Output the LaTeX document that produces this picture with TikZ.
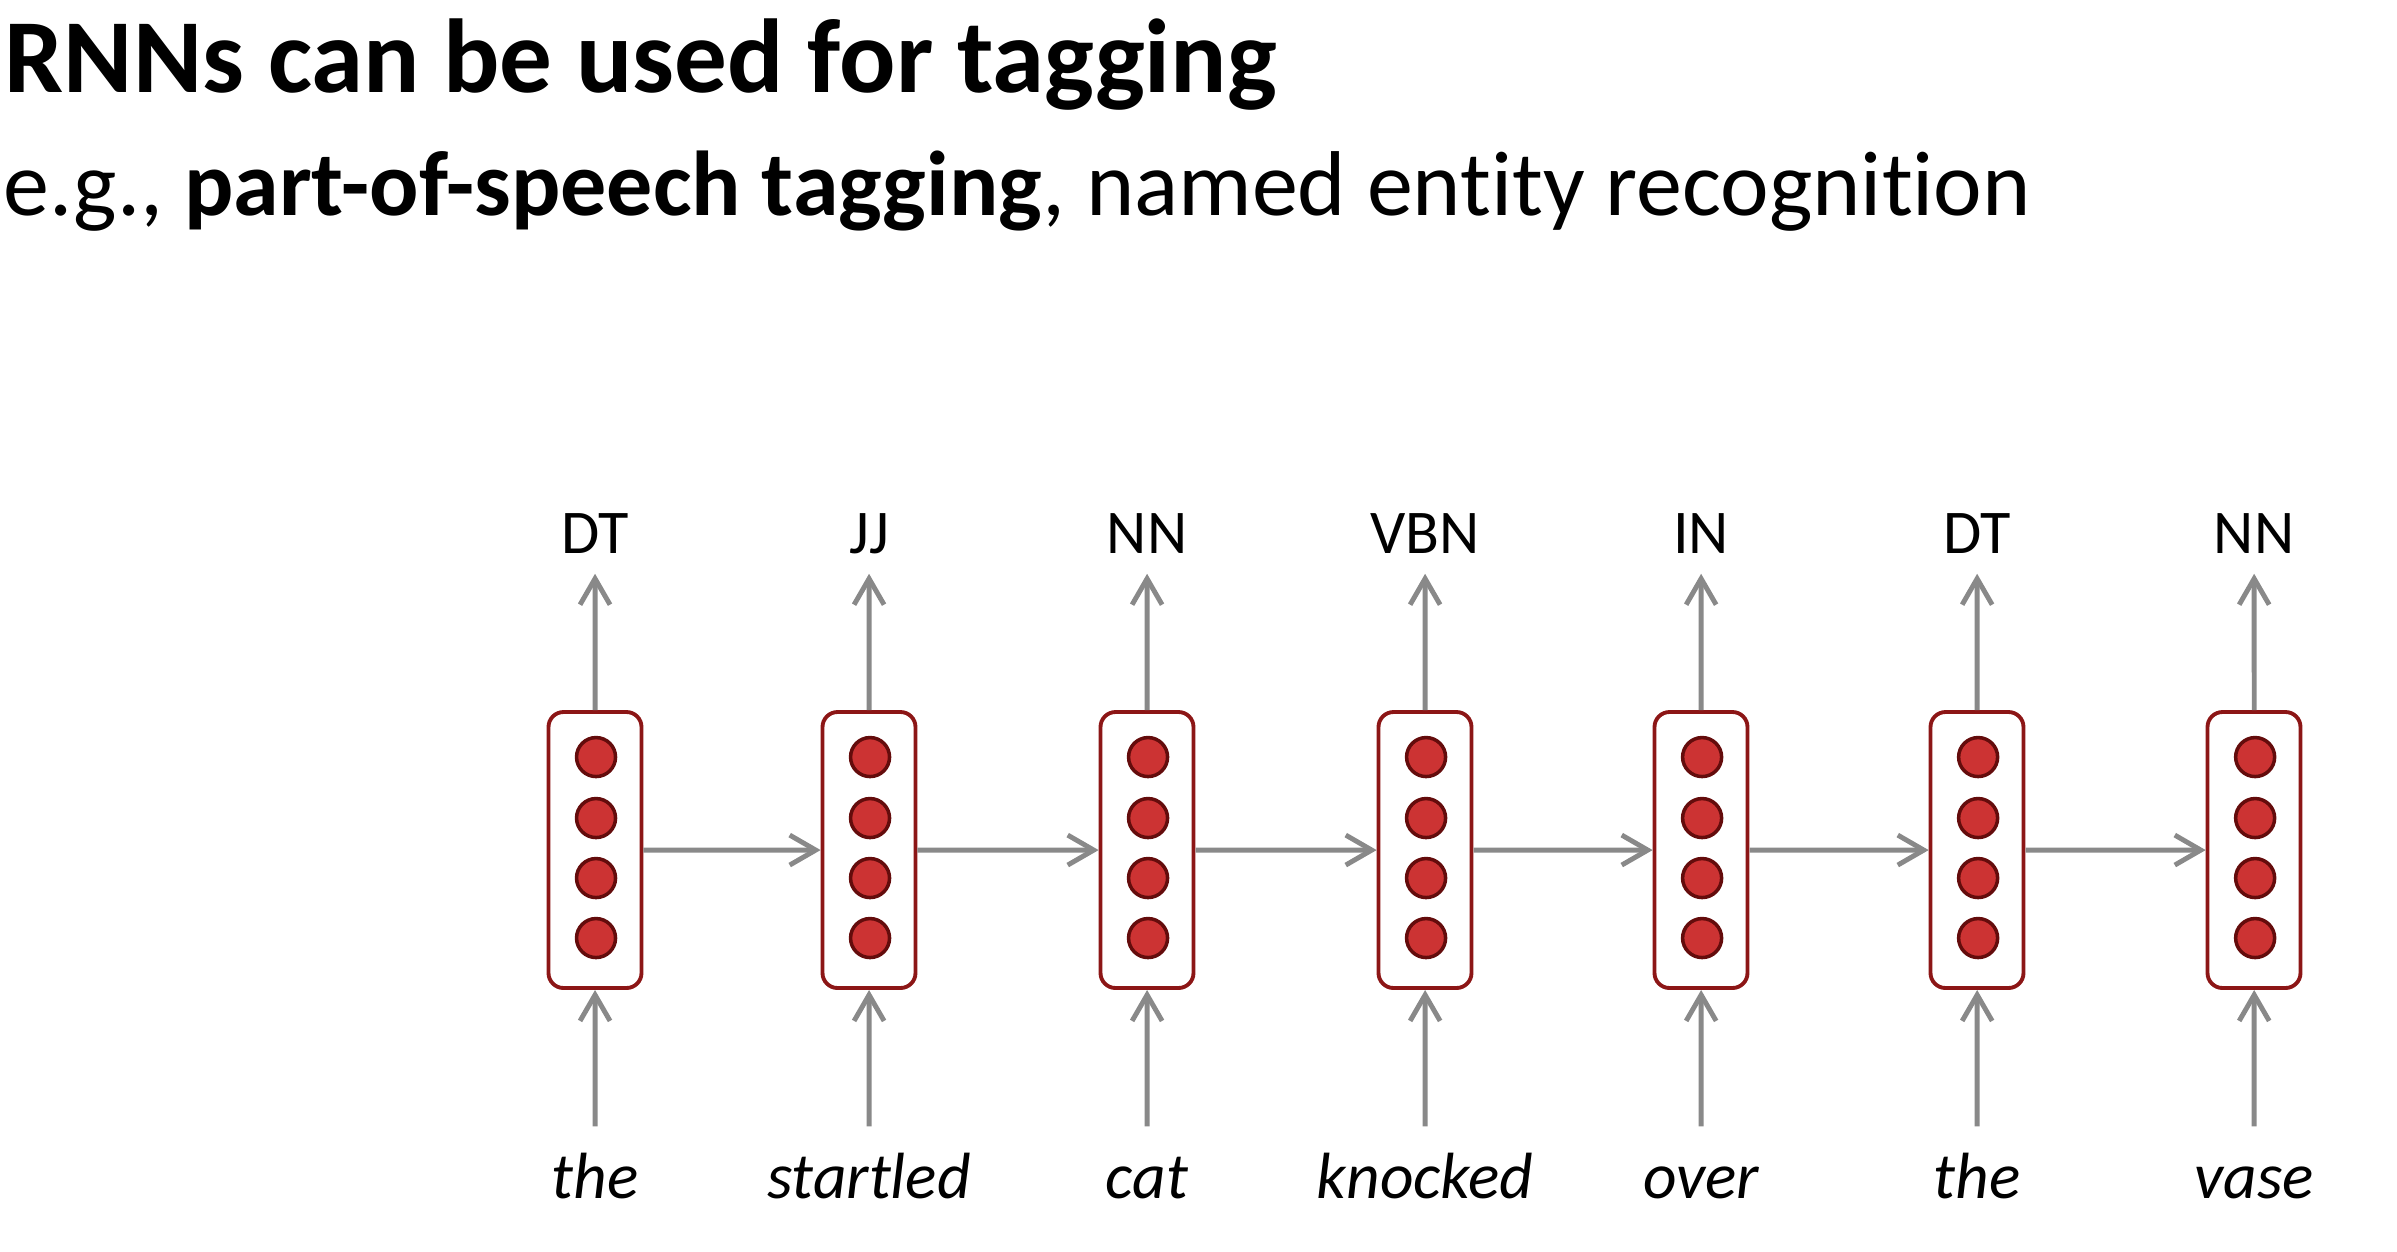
\documentclass[tikz,border=0pt]{standalone}
\usepackage{fontspec}
\setmainfont{Carlito}[Ligatures=NoCommon]
\usetikzlibrary{arrows.meta}
\definecolor{boxred}{RGB}{140,22,22}
\definecolor{unitred}{RGB}{204,51,51}
\definecolor{unitedge}{RGB}{100,12,12}
\definecolor{linkgray}{RGB}{137,137,137}
\tikzset{
  cell/.style={draw=boxred, line width=1.1pt, fill=white, rounded corners=0.15cm,
    minimum width=0.93cm, minimum height=2.76cm, inner sep=0pt},
  unit/.style={circle, draw=unitedge, fill=unitred, line width=1pt,
    minimum size=0.39cm, inner sep=0pt},
  tag/.style={anchor=base, inner sep=0pt, text depth=0.2cm, font=\fontsize{17.7}{20}\selectfont},
  word/.style={anchor=base, inner sep=0pt, text height=0.71cm, font=\fontsize{18.6}{21}\selectfont\itshape},
  link/.style={draw=linkgray, line width=1.4pt, -{Straight Barb[length=0.26cm,width=0.3cm]}}
}
\begin{document}
\begin{tikzpicture}[scale=0.1]
\useasboundingbox (0,0) rectangle (239.7,-125.1);
% heading
\node [anchor=base west, inner sep=0pt, font=\fontsize{29.9}{36}\selectfont\bfseries] (title) at (0.4,-9.2) {RNNs can be used for tagging};
\node [anchor=base west, inner sep=0pt, font=\fontsize{26.2}{32}\selectfont] (subtitle) at (0.3,-21.5) {e.g., \textbf{part-of-speech tagging}, named entity recognition};
% cells
\node [cell] (c1) at (59.5,-85) {};
\path (c1) +(0.1,9.3) node [unit] (c1a) {} +(0.1,3.2) node [unit] (c1b) {} +(0.1,-2.8) node [unit] (c1c) {} +(0.1,-8.8) node [unit] (c1d) {};
\node [cell] (c2) at (86.9,-85) {};
\path (c2) +(0.1,9.3) node [unit] (c2a) {} +(0.1,3.2) node [unit] (c2b) {} +(0.1,-2.8) node [unit] (c2c) {} +(0.1,-8.8) node [unit] (c2d) {};
\node [cell] (c3) at (114.7,-85) {};
\path (c3) +(0.1,9.3) node [unit] (c3a) {} +(0.1,3.2) node [unit] (c3b) {} +(0.1,-2.8) node [unit] (c3c) {} +(0.1,-8.8) node [unit] (c3d) {};
\node [cell] (c4) at (142.5,-85) {};
\path (c4) +(0.1,9.3) node [unit] (c4a) {} +(0.1,3.2) node [unit] (c4b) {} +(0.1,-2.8) node [unit] (c4c) {} +(0.1,-8.8) node [unit] (c4d) {};
\node [cell] (c5) at (170.1,-85) {};
\path (c5) +(0.1,9.3) node [unit] (c5a) {} +(0.1,3.2) node [unit] (c5b) {} +(0.1,-2.8) node [unit] (c5c) {} +(0.1,-8.8) node [unit] (c5d) {};
\node [cell] (c6) at (197.7,-85) {};
\path (c6) +(0.1,9.3) node [unit] (c6a) {} +(0.1,3.2) node [unit] (c6b) {} +(0.1,-2.8) node [unit] (c6c) {} +(0.1,-8.8) node [unit] (c6d) {};
\node [cell] (c7) at (225.4,-85) {};
\path (c7) +(0.1,9.3) node [unit] (c7a) {} +(0.1,3.2) node [unit] (c7b) {} +(0.1,-2.8) node [unit] (c7c) {} +(0.1,-8.8) node [unit] (c7d) {};
% tags
\node [tag] (t1) at (59.5,-55.3) {DT};
\node [tag] (t2) at (86.9,-55.3) {JJ};
\node [tag] (t3) at (114.7,-55.3) {NN};
\node [tag] (t4) at (142.5,-55.3) {VBN};
\node [tag] (t5) at (170.1,-55.3) {IN};
\node [tag] (t6) at (197.7,-55.3) {DT};
\node [tag] (t7) at (225.4,-55.3) {NN};
% words
\node [word] (w1) at (59.5,-119.8) {the};
\node [word] (w2) at (86.9,-119.8) {startled};
\node [word] (w3) at (114.7,-119.8) {cat};
\node [word] (w4) at (142.5,-119.8) {knocked};
\node [word] (w5) at (170.1,-119.8) {over};
\node [word] (w6) at (197.7,-119.8) {the};
\node [word] (w7) at (225.4,-119.8) {vase};
% links
\draw [link] (w1) -- (c1); \draw [link] (c1) -- (t1); \draw [link] (c1) -- (c2);
\draw [link] (w2) -- (c2); \draw [link] (c2) -- (t2); \draw [link] (c2) -- (c3);
\draw [link] (w3) -- (c3); \draw [link] (c3) -- (t3); \draw [link] (c3) -- (c4);
\draw [link] (w4) -- (c4); \draw [link] (c4) -- (t4); \draw [link] (c4) -- (c5);
\draw [link] (w5) -- (c5); \draw [link] (c5) -- (t5); \draw [link] (c5) -- (c6);
\draw [link] (w6) -- (c6); \draw [link] (c6) -- (t6); \draw [link] (c6) -- (c7);
\draw [link] (w7) -- (c7); \draw [link] (c7) -- (t7);
\end{tikzpicture}
\end{document}
